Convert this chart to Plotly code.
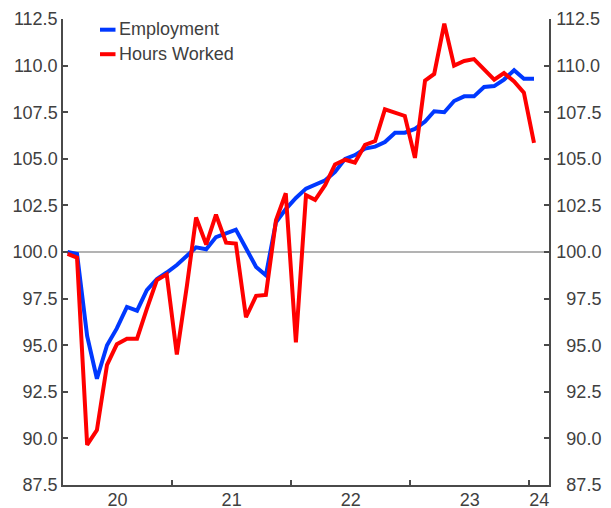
import plotly.graph_objects as go

months = [f"{2020 + (m // 12)}-{(m % 12) + 1:02d}" for m in range(1, 49)]  # 2020-02 .. 2024-01

employment = [100.0, 99.9, 95.5, 93.2, 95.0, 95.9, 97.05, 96.85, 97.95, 98.55, 98.9, 99.3,
              99.8, 100.25, 100.15, 100.8, 101.0, 101.2, 100.2, 99.2, 98.75, 101.6, 102.3, 102.9,
              103.4, 103.6, 103.85, 104.3, 105.0, 105.2, 105.55, 105.65, 105.9, 106.4, 106.4, 106.6,
              107.0, 107.55, 107.5, 108.1, 108.35, 108.35, 108.85, 108.9, 109.25, 109.75, 109.3, 109.3]

hours_worked = [99.9, 99.7, 89.65, 90.45, 93.95, 95.05, 95.35, 95.35, 96.95, 98.5, 98.8, 94.5,
                98.2, 101.85, 100.4, 102.0, 100.5, 100.45, 96.5, 97.65, 97.7, 101.7, 103.15, 95.15,
                103.05, 102.8, 103.6, 104.7, 104.95, 104.8, 105.75, 105.95, 107.65, 107.5, 107.3, 105.05,
                109.2, 109.55, 112.25, 110.0, 110.25, 110.35, 109.8, 109.25, 109.6, 109.15, 108.55, 105.85]

year_labels = ["20", "21", "22", "23", "24"]
year_label_pos = ["2020-07-17", "2021-07-02", "2022-07-02", "2023-07-02", "2024-01-31"]
year_bounds = ["2021-01-01", "2022-01-01", "2023-01-01", "2024-01-01"]

y_ticks = [87.5, 90.0, 92.5, 95.0, 97.5, 100.0, 102.5, 105.0, 107.5, 110.0, 112.5]

series_names = ["Employment", "Hours Worked"]
colors = ["#0038ff", "#ff0000"]

x = [m + "-15" for m in months]

# right-hand labels are right-aligned in the reference: pad short ones with a figure space
right_ticktext = [("\u2007" if v < 100 else "") + f"{v:.1f}" for v in y_ticks]

FONT = dict(family="Liberation Sans, Arial, sans-serif", size=18, color="#404040")
AXC = "#4a4a4a"

# page body has an 8px margin, so the figure is sized/margined to compensate
W, H = 603, 500
L, R, T, B = 55, 62, 11, 23
PW = W - L - R
PH = H - T - B


def px_x(px):  # page x -> paper
    return (px - 8 - L) / PW


def px_y(py):  # page y -> paper
    return (H - B - (py - 8)) / PH


fig = go.Figure()
fig.add_trace(go.Scatter(x=x, y=employment, mode="lines", name=series_names[0],
                         line=dict(color=colors[0], width=4), yaxis="y", showlegend=False))
fig.add_trace(go.Scatter(x=x, y=hours_worked, mode="lines", name=series_names[1],
                         line=dict(color=colors[1], width=4), yaxis="y2", showlegend=False))

yax = dict(range=[87.5, 112.5], tickmode="array", tickvals=y_ticks,
           ticks="inside", ticklen=5, tickcolor=AXC, tickwidth=1.5,
           showline=True, linecolor=AXC, linewidth=1.5, showgrid=False, zeroline=False,
           tickfont=FONT, fixedrange=True)

fig.update_layout(
    width=W, height=H,
    margin=dict(l=L, r=R, t=T, b=B, autoexpand=False),
    paper_bgcolor="white", plot_bgcolor="white",
    font=FONT,
    xaxis=dict(type="date", range=["2020-02-01", "2024-03-01"],
               tickmode="array", tickvals=year_label_pos, ticktext=year_labels,
               ticks="", showline=True, linecolor=AXC, linewidth=1.5,
               showgrid=False, zeroline=False, tickfont=FONT, ticklabelstandoff=-2,
               minor=dict(tickmode="array", tickvals=year_bounds, ticks="inside",
                          ticklen=5, tickcolor=AXC, tickwidth=1.5, showgrid=False)),
    yaxis=dict(side="left", ticktext=[f"{v:.1f}" for v in y_ticks], **yax),
    yaxis2=dict(side="right", overlaying="y", anchor="x", ticklabelstandoff=2,
                ticktext=right_ticktext, **yax),
    shapes=[
        dict(type="line", xref="paper", yref="y", x0=0, x1=1, y0=100, y1=100,
             line=dict(color="#b3b3b3", width=2), layer="below"),
        dict(type="line", xref="paper", yref="paper", x0=px_x(100), x1=px_x(115.5),
             y0=px_y(29.7), y1=px_y(29.7), line=dict(color=colors[0], width=4)),
        dict(type="line", xref="paper", yref="paper", x0=px_x(100), x1=px_x(115.5),
             y0=px_y(54.2), y1=px_y(54.2), line=dict(color=colors[1], width=4)),
    ],
    annotations=[
        dict(text=series_names[0], xref="paper", yref="paper", x=px_x(117), y=px_y(29.2),
             xanchor="left", yanchor="middle", showarrow=False, font=FONT),
        dict(text=series_names[1], xref="paper", yref="paper", x=px_x(117), y=px_y(53.7),
             xanchor="left", yanchor="middle", showarrow=False, font=FONT),
    ],
)

fig.write_html("out.html")
